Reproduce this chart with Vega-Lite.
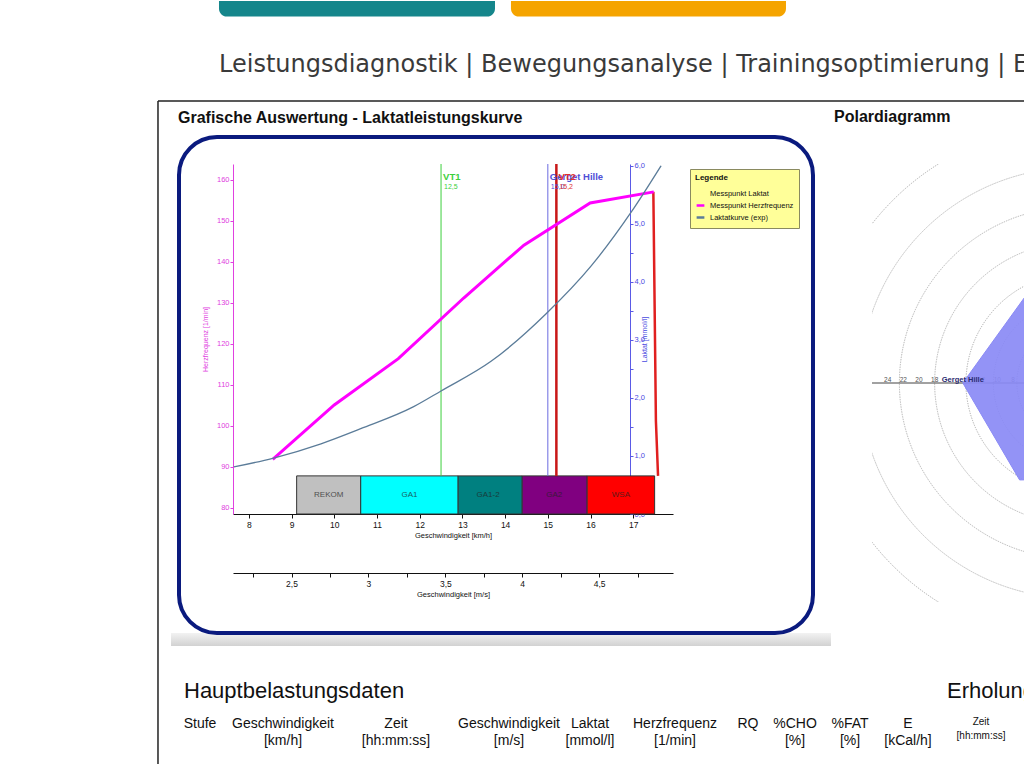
{
  "$schema": "https://vega.github.io/schema/vega-lite/v6.json",
  "background": "white",
  "padding": {"left": 157, "top": 0, "right": 0, "bottom": 0},
  "config": {
    "font": "Liberation Sans",
    "view": {"stroke": null},
    "axis": {"grid": false, "labelFont": "Liberation Sans", "titleFont": "Liberation Sans"},
    "text": {"font": "Liberation Sans"},
    "title": {"font": "Liberation Sans"}
  },
  "title": {
    "text": "Leistungsdiagnostik | Bewegungsanalyse | Trainingsoptimierung | Ernährungsberatung",
    "anchor": "start",
    "frame": "group",
    "font": "DejaVu Sans",
    "fontSize": 24,
    "fontWeight": "normal",
    "color": "#3a3a3a",
    "dx": -14,
    "offset": -76
  },
  "datasets": {
    "hf": [
      {"kmh": 8.56, "hf": 91.8},
      {"kmh": 10.0, "hf": 105.1},
      {"kmh": 11.5, "hf": 116.4},
      {"kmh": 13.03, "hf": 131.2},
      {"kmh": 14.44, "hf": 144.1},
      {"kmh": 15.99, "hf": 154.4},
      {"kmh": 17.48, "hf": 157.1}
    ],
    "abfall": [
      {"kmh": 17.47, "hf": 157.1},
      {"kmh": 17.53, "hf": 101.2},
      {"kmh": 17.58, "hf": 87.8}
    ],
    "laktat": [
      {"kmh": 7.65, "la": 0.81},
      {"kmh": 8.56, "la": 0.96},
      {"kmh": 9.69, "la": 1.21},
      {"kmh": 10.62, "la": 1.47},
      {"kmh": 11.86, "la": 1.85},
      {"kmh": 12.5, "la": 2.12},
      {"kmh": 13.67, "la": 2.63},
      {"kmh": 14.96, "la": 3.45},
      {"kmh": 16.01, "la": 4.27},
      {"kmh": 16.95, "la": 5.2},
      {"kmh": 17.65, "la": 6.0}
    ],
    "zonen": [
      {"zone": "REKOM", "von": 9.12, "bis": 10.62, "mitte": 9.87},
      {"zone": "GA1", "von": 10.62, "bis": 12.9, "mitte": 11.76},
      {"zone": "GA1-2", "von": 12.9, "bis": 14.4, "mitte": 13.6},
      {"zone": "GA2", "von": 14.4, "bis": 15.92, "mitte": 15.15},
      {"zone": "WSA", "von": 15.92, "bis": 17.5, "mitte": 16.71}
    ],
    "schwellen": [
      {"name": "VT1", "kmh": 12.5, "wert": "12,5"},
      {"name": "Gerget Hille", "kmh": 15.0, "wert": "15,0"},
      {"name": "VT2", "kmh": 15.2, "wert": "15,2"}
    ],
    "logos": [
      {"logo": "teal", "von": 7.302, "bis": 13.763},
      {"logo": "orange", "von": 14.137, "bis": 20.575}
    ],
    "kreise": [
      {"r": 0.5}, {"r": 1}, {"r": 1.5}, {"r": 2}, {"r": 2.5}, {"r": 3}, {"r": 3.5}, {"r": 4}, {"r": 4.5}, {"r": 5},
      {"r": 5.5}, {"r": 6}, {"r": 6.5}, {"r": 7}, {"r": 7.5}, {"r": 8}, {"r": 8.5}, {"r": 9}, {"r": 9.5}, {"r": 10},
      {"r": 10.5}, {"r": 11}, {"r": 11.5}, {"r": 12}, {"r": 12.5}, {"r": 13}, {"r": 13.5}, {"r": 14}, {"r": 14.5}, {"r": 15},
      {"r": 15.5}, {"r": 16}, {"r": 16.5}, {"r": 17}, {"r": 17.5}, {"r": 18}, {"r": 18.5}, {"r": 19}, {"r": 19.5}, {"r": 20},
      {"r": 20.5}, {"r": 21}, {"r": 21.5}, {"r": 22}, {"r": 22.5}, {"r": 23}, {"r": 23.5}, {"r": 24}, {"r": 24.5}, {"r": 25},
      {"r": 25.5}, {"r": 26}
    ],
    "polygon": [
      {"i": 0, "x": -14, "y": 0},
      {"i": 1, "x": -6.5, "y": 11.26},
      {"i": 2, "x": 6.4, "y": 11.09},
      {"i": 3, "x": 14.4, "y": 0},
      {"i": 4, "x": 7.15, "y": -12.38},
      {"i": 5, "x": -7, "y": -12.12}
    ],
    "ringwerte": [
      {"wert": 24}, {"wert": 22}, {"wert": 20}, {"wert": 18}, {"wert": 12}, {"wert": 10}, {"wert": 8}
    ],
    "kopf": [
      {"nr": 1, "zeile": "kopf", "text": "Stufe"},
      {"nr": 2, "zeile": "kopf", "text": "Geschwindigkeit\n[km/h]"},
      {"nr": 3, "zeile": "kopf", "text": "Zeit\n[hh:mm:ss]"},
      {"nr": 4, "zeile": "kopf", "text": "Geschwindigkeit\n[m/s]"},
      {"nr": 5, "zeile": "kopf", "text": "Laktat\n[mmol/l]"},
      {"nr": 6, "zeile": "kopf", "text": "Herzfrequenz\n[1/min]"},
      {"nr": 7, "zeile": "kopf", "text": "RQ"},
      {"nr": 8, "zeile": "kopf", "text": "%CHO\n[%]"},
      {"nr": 9, "zeile": "kopf", "text": "%FAT\n[%]"},
      {"nr": 10, "zeile": "kopf", "text": "E\n[kCal/h]"},
      {"nr": 11, "zeile": "kopf", "text": "Zeit\n[hh:mm:ss]"}
    ],
    "abschnitte": [
      {"nr": 1, "zeile": "titel", "text": "Hauptbelastungsdaten"},
      {"nr": 11, "zeile": "titel", "text": "Erholungsdaten"}
    ]
  },
  "bounds": "flush",
  "columns": 2,
  "spacing": {"row": 89, "column": 199},
  "concat": [
    {
      "width": 440,
      "height": 350,
      "title": {
        "text": "Grafische Auswertung - Laktatleistungskurve",
        "anchor": "start",
        "frame": "group",
        "dx": -55,
        "fontSize": 16,
        "fontWeight": "bold",
        "color": "#111111",
        "offset": -125
      },
      "layer": [
        {
          "layer": [
            {
              "data": {"name": "logos"},
              "mark": {"type": "rect", "cornerRadiusBottomLeft": 13, "cornerRadiusBottomRight": 13},
              "encoding": {
                "x": {"field": "von", "type": "quantitative", "scale": {"domain": [7.63, 17.93], "nice": false, "zero": false}},
                "x2": {"field": "bis"},
                "y": {"datum": 203.7, "type": "quantitative", "scale": {"domain": [78.5, 163.9], "nice": false, "zero": false}},
                "y2": {"datum": 199.9},
                "fill": {"field": "logo", "type": "nominal", "legend": null}
              }
            },
            {
              "data": {"values": [{}]},
              "mark": {
                "type": "rect",
                "fill": {"gradient": "linear", "x1": 0, "y1": 0, "x2": 0, "y2": 1,
                  "stops": [{"offset": 0, "color": "#f2f2f2"}, {"offset": 1, "color": "#d2d2d2"}]}
              },
              "encoding": {
                "x": {"datum": 6.179, "type": "quantitative", "scale": {"domain": [7.63, 17.93], "nice": false, "zero": false}},
                "x2": {"datum": 21.628},
                "y": {"datum": 49.46, "type": "quantitative", "scale": {"domain": [78.5, 163.9], "nice": false, "zero": false}},
                "y2": {"datum": 46.29}
              }
            },
            {
              "data": {"values": [{}]},
              "mark": {"type": "rect", "fill": "transparent", "stroke": "#0a1a7e", "strokeWidth": 4, "cornerRadius": 38},
              "encoding": {
                "x": {"datum": 6.366, "type": "quantitative", "scale": {"domain": [7.63, 17.93], "nice": false, "zero": false}},
                "x2": {"datum": 21.207},
                "y": {"datum": 170.5, "type": "quantitative", "scale": {"domain": [78.5, 163.9], "nice": false, "zero": false}},
                "y2": {"datum": 49.46}
              }
            },
            {
              "data": {"values": [{}]},
              "mark": {"type": "rule", "color": "#222222", "strokeWidth": 1.5},
              "encoding": {
                "x": {"datum": 5.874, "type": "quantitative", "scale": {"domain": [7.63, 17.93], "nice": false, "zero": false}},
                "y": {"datum": 179.28, "type": "quantitative", "scale": {"domain": [78.5, 163.9], "nice": false, "zero": false}},
                "y2": {"datum": 17.25}
              }
            },
            {
              "data": {"values": [{}]},
              "mark": {"type": "rule", "color": "#222222", "strokeWidth": 1.5},
              "encoding": {
                "x": {"datum": 5.874, "type": "quantitative", "scale": {"domain": [7.63, 17.93], "nice": false, "zero": false}},
                "x2": {"datum": 26.17},
                "y": {"datum": 179.28, "type": "quantitative", "scale": {"domain": [78.5, 163.9], "nice": false, "zero": false}}
              }
            },
            {
              "data": {"name": "zonen"},
              "mark": {"type": "rect", "stroke": "#333333", "strokeWidth": 1},
              "encoding": {
                "x": {"field": "von", "type": "quantitative", "scale": {"domain": [7.63, 17.93], "nice": false, "zero": false}},
                "x2": {"field": "bis"},
                "y": {"datum": 87.8, "type": "quantitative", "scale": {"domain": [78.5, 163.9], "nice": false, "zero": false}},
                "y2": {"datum": 78.5},
                "fill": {
                  "field": "zone", "type": "nominal", "legend": null,
                  "scale": {
                    "domain": ["REKOM", "GA1", "GA1-2", "GA2", "WSA", "VT1", "Gerget Hille", "VT2", "teal", "orange"],
                    "range": ["#c0c0c0", "#00ffff", "#008080", "#800080", "#ff0000", "#3ccf3c", "#4f4fd6", "#e03030", "#15868b", "#f5a400"]
                  }
                }
              }
            },
            {
              "data": {"name": "zonen"},
              "mark": {"type": "text", "fontSize": 8, "color": "#222222", "opacity": 0.72},
              "encoding": {
                "x": {"field": "mitte", "type": "quantitative", "scale": {"domain": [7.63, 17.93], "nice": false, "zero": false}},
                "y": {"datum": 83.2, "type": "quantitative", "scale": {"domain": [78.5, 163.9], "nice": false, "zero": false}},
                "text": {"field": "zone"}
              }
            },
            {
              "data": {"name": "schwellen"},
              "mark": {"type": "rule", "strokeWidth": 1},
              "encoding": {
                "x": {"field": "kmh", "type": "quantitative", "scale": {"domain": [7.63, 17.93], "nice": false, "zero": false}},
                "y": {"datum": 163.9, "type": "quantitative", "scale": {"domain": [78.5, 163.9], "nice": false, "zero": false}},
                "y2": {"datum": 87.8},
                "stroke": {
                  "field": "name", "type": "nominal", "legend": null,
                  "scale": {"domain": ["VT1", "Gerget Hille", "VT2"], "range": ["#3ccf3c", "#6a6ae0", "#c81818"]}
                }
              }
            },
            {
              "data": {"name": "schwellen"},
              "transform": [{"filter": "datum.name === 'VT2'"}],
              "mark": {"type": "rule", "strokeWidth": 2.5, "color": "#c81818"},
              "encoding": {
                "x": {"field": "kmh", "type": "quantitative", "scale": {"domain": [7.63, 17.93], "nice": false, "zero": false}},
                "y": {"datum": 163.9, "type": "quantitative", "scale": {"domain": [78.5, 163.9], "nice": false, "zero": false}},
                "y2": {"datum": 87.8}
              }
            },
            {
              "data": {"name": "schwellen"},
              "mark": {"type": "text", "align": "left", "dx": 2, "fontSize": 9.5, "fontWeight": "bold"},
              "encoding": {
                "x": {"field": "kmh", "type": "quantitative", "scale": {"domain": [7.63, 17.93], "nice": false, "zero": false}},
                "y": {"datum": 160.7, "type": "quantitative", "scale": {"domain": [78.5, 163.9], "nice": false, "zero": false}},
                "text": {"field": "name"},
                "fill": {"field": "name", "type": "nominal", "legend": null}
              }
            },
            {
              "data": {"name": "schwellen"},
              "mark": {"type": "text", "align": "left", "dx": 3, "fontSize": 7},
              "encoding": {
                "x": {"field": "kmh", "type": "quantitative", "scale": {"domain": [7.63, 17.93], "nice": false, "zero": false}},
                "y": {"datum": 158.2, "type": "quantitative", "scale": {"domain": [78.5, 163.9], "nice": false, "zero": false}},
                "text": {"field": "wert"},
                "fill": {"field": "name", "type": "nominal", "legend": null}
              }
            },
            {
              "data": {"name": "abfall"},
              "mark": {"type": "line", "color": "#e02020", "strokeWidth": 2.5},
              "encoding": {
                "x": {"field": "kmh", "type": "quantitative", "scale": {"domain": [7.63, 17.93], "nice": false, "zero": false}},
                "y": {"field": "hf", "type": "quantitative", "scale": {"domain": [78.5, 163.9], "nice": false, "zero": false}}
              }
            },
            {
              "data": {"name": "hf"},
              "mark": {"type": "line", "strokeWidth": 3},
              "encoding": {
                "x": {
                  "field": "kmh", "type": "quantitative",
                  "scale": {"domain": [7.63, 17.93], "nice": false, "zero": false},
                  "axis": {
                    "values": [8, 8.5, 9, 9.5, 10, 10.5, 11, 11.5, 12, 12.5, 13, 13.5, 14, 14.5, 15, 15.5, 16, 16.5, 17, 17.5],
                    "labelExpr": "datum.value % 1 === 0 ? datum.label : ''",
                    "title": "Geschwindigkeit [km/h]",
                    "titleFontSize": 7.5, "titleFontWeight": "normal", "titleColor": "#111111",
                    "labelFontSize": 8.5, "labelColor": "#111111",
                    "domainColor": "#111111", "tickColor": "#111111", "tickSize": 4,
                    "labelPadding": 2, "titlePadding": 3
                  }
                },
                "y": {
                  "field": "hf", "type": "quantitative",
                  "scale": {"domain": [78.5, 163.9], "nice": false, "zero": false},
                  "axis": {
                    "values": [80, 85, 90, 95, 100, 105, 110, 115, 120, 125, 130, 135, 140, 145, 150, 155, 160],
                    "labelExpr": "datum.value % 10 === 0 ? datum.label : ''",
                    "title": "Herzfrequenz [1/min]",
                    "titleFontSize": 7, "titleFontWeight": "normal", "titleColor": "#e040e0",
                    "labelFontSize": 7.5, "labelColor": "#e040e0",
                    "domainColor": "#e040e0", "tickColor": "#e040e0", "tickSize": 3,
                    "labelPadding": 1, "titlePadding": 8
                  }
                },
                "color": {
                  "datum": "Messpunkt Herzfrequenz",
                  "scale": {
                    "domain": ["Messpunkt Laktat", "Messpunkt Herzfrequenz", "Laktatkurve (exp)"],
                    "range": ["#ffff99", "#ff00ff", "#5b7c99"]
                  },
                  "legend": {
                    "orient": "none", "legendX": 457, "legendY": 5,
                    "title": "Legende", "titleFontSize": 8, "titleFontWeight": "bold", "titleColor": "#111111",
                    "labelFontSize": 7.5, "labelColor": "#111111",
                    "fillColor": "#ffff99", "strokeColor": "#8a8a60",
                    "padding": 5, "rowPadding": 1, "titlePadding": 6,
                    "symbolType": "stroke", "symbolStrokeWidth": 2.5, "symbolSize": 60, "labelLimit": 200
                  }
                }
              }
            }
          ]
        },
        {
          "data": {"name": "laktat"},
          "mark": {"type": "line", "interpolate": "monotone", "strokeWidth": 1.3},
          "encoding": {
            "x": {
              "field": "kmh", "type": "quantitative",
              "scale": {"domain": [7.63, 17.93], "nice": false, "zero": false},
              "axis": {
                "orient": "bottom", "offset": 59,
                "values": [8.1, 9, 9.9, 10.8, 11.7, 12.6, 13.5, 14.4, 15.3, 16.2, 17.1],
                "labelExpr": "abs(datum.value / 1.8 - round(datum.value / 1.8)) < 0.01 ? replace(format(datum.value / 3.6, '.2~f'), '.', ',') : ''",
                "title": "Geschwindigkeit [m/s]",
                "titleFontSize": 7.5, "titleFontWeight": "normal", "titleColor": "#111111",
                "labelFontSize": 8.5, "labelColor": "#111111",
                "domainColor": "#111111", "tickColor": "#111111", "tickSize": 4,
                "labelPadding": 2, "titlePadding": 3
              }
            },
            "y": {
              "field": "la", "type": "quantitative",
              "scale": {"domain": [0, 6.03], "nice": false, "zero": false},
              "axis": {
                "orient": "right", "offset": -43,
                "values": [0, 0.5, 1, 1.5, 2, 2.5, 3, 3.5, 4, 4.5, 5, 5.5, 6],
                "labelExpr": "datum.value % 1 === 0 ? replace(format(datum.value, '.1f'), '.', ',') : ''",
                "title": "Laktat [mmol/l]", "titleAngle": 270,
                "titleFontSize": 7, "titleFontWeight": "normal", "titleColor": "#4a4adf",
                "labelFontSize": 7.5, "labelColor": "#4a4adf",
                "domainColor": "#5a5ae6", "tickColor": "#5a5ae6", "tickSize": 3,
                "labelPadding": 1, "titlePadding": 3
              }
            },
            "color": {"datum": "Laktatkurve (exp)"}
          }
        }
      ],
      "resolve": {"scale": {"y": "independent"}, "axis": {"x": "independent", "y": "independent"}}
    },
    {
      "width": 153,
      "height": 438,
      "title": {
        "text": "Polardiagramm",
        "anchor": "start",
        "frame": "group",
        "dx": -38,
        "fontSize": 16,
        "fontWeight": "bold",
        "color": "#111111",
        "offset": 39
      },
      "layer": [
        {
          "data": {"name": "kreise"},
          "mark": {"type": "arc", "theta": 0, "theta2": 6.2832, "filled": false, "stroke": "#a0a0a0", "strokeWidth": 0.6, "strokeDash": [1, 1.5], "clip": true},
          "encoding": {
            "radius": {"field": "r", "type": "quantitative", "scale": {"type": "linear", "domain": [0, 26], "range": [0, 203.6], "zero": true}},
            "x": {"datum": 0, "type": "quantitative", "scale": {"domain": [26, 6.46], "nice": false, "zero": false}, "axis": null},
            "y": {"datum": 0, "type": "quantitative", "scale": {"domain": [-27.97, 27.97], "nice": false, "zero": false}, "axis": null}
          }
        },
        {
          "data": {"values": [{}]},
          "mark": {"type": "rule", "color": "#444444", "strokeWidth": 1.2, "clip": true},
          "encoding": {
            "x": {"datum": 26, "type": "quantitative", "scale": {"domain": [26, 6.46], "nice": false, "zero": false}, "axis": null},
            "x2": {"datum": 0},
            "y": {"datum": 0, "type": "quantitative", "scale": {"domain": [-27.97, 27.97], "nice": false, "zero": false}, "axis": null}
          }
        },
        {
          "data": {"name": "ringwerte"},
          "mark": {"type": "text", "fontSize": 6.5, "color": "#555555", "dy": -3, "clip": true},
          "encoding": {
            "x": {"field": "wert", "type": "quantitative", "scale": {"domain": [26, 6.46], "nice": false, "zero": false}, "axis": null},
            "y": {"datum": 0, "type": "quantitative", "scale": {"domain": [-27.97, 27.97], "nice": false, "zero": false}, "axis": null},
            "text": {"field": "wert"}
          }
        },
        {
          "data": {"name": "polygon"},
          "mark": {"type": "line", "interpolate": "linear-closed", "fill": "#8a8af5", "stroke": "#8a8af5", "strokeWidth": 1, "fillOpacity": 0.92, "clip": true},
          "encoding": {
            "x": {"field": "x", "type": "quantitative", "scale": {"domain": [26, 6.46], "nice": false, "zero": false}, "axis": null},
            "y": {"field": "y", "type": "quantitative", "scale": {"domain": [-27.97, 27.97], "nice": false, "zero": false}, "axis": null},
            "order": {"field": "i", "type": "quantitative"}
          }
        },
        {
          "data": {"name": "polygon"},
          "transform": [{"filter": "datum.i === 3"}],
          "mark": {"type": "text", "fontSize": 7.5, "fontWeight": "bold", "color": "#2a2a70", "dy": -3, "clip": true},
          "encoding": {
            "x": {"field": "x", "type": "quantitative", "scale": {"domain": [26, 6.46], "nice": false, "zero": false}, "axis": null},
            "y": {"field": "y", "type": "quantitative", "scale": {"domain": [-27.97, 27.97], "nice": false, "zero": false}, "axis": null},
            "text": {"datum": "Gerget Hille"}
          }
        }
      ]
    },
    {
      "width": 440,
      "height": 26,
      "layer": [
        {
          "data": {"name": "abschnitte"},
          "transform": [{"filter": "datum.nr === 1"}],
          "mark": {"type": "text", "align": "left", "baseline": "middle", "dx": -16, "fontSize": 22, "color": "#111111"},
          "encoding": {
            "x": {"field": "nr", "type": "quantitative", "scale": {"domain": [1, 2, 3, 4, 5, 6, 7, 8, 9, 10, 11], "range": [-33, 50, 163, 276, 357, 442, 515, 562, 617, 675, 748]}, "axis": null},
            "y": {"field": "zeile", "type": "nominal", "scale": {"type": "point", "domain": ["titel", "kopf"], "range": [0, 26], "padding": 0}, "axis": null},
            "text": {"field": "text"}
          }
        },
        {
          "data": {"name": "abschnitte"},
          "transform": [{"filter": "datum.nr === 11"}],
          "mark": {"type": "text", "align": "left", "baseline": "middle", "dx": -34, "fontSize": 22, "color": "#111111"},
          "encoding": {
            "x": {"field": "nr", "type": "quantitative", "axis": null},
            "y": {"field": "zeile", "type": "nominal", "axis": null},
            "text": {"field": "text"}
          }
        },
        {
          "data": {"name": "kopf"},
          "transform": [{"filter": "datum.nr < 11"}],
          "mark": {"type": "text", "align": "center", "baseline": "top", "lineBreak": "\n", "lineHeight": 17, "fontSize": 14, "color": "#111111"},
          "encoding": {
            "x": {"field": "nr", "type": "quantitative", "axis": null},
            "y": {"field": "zeile", "type": "nominal", "axis": null},
            "text": {"field": "text"}
          }
        },
        {
          "data": {"name": "kopf"},
          "transform": [{"filter": "datum.nr === 11"}],
          "mark": {"type": "text", "align": "center", "baseline": "top", "lineBreak": "\n", "lineHeight": 14, "fontSize": 10, "color": "#111111"},
          "encoding": {
            "x": {"field": "nr", "type": "quantitative", "axis": null},
            "y": {"field": "zeile", "type": "nominal", "axis": null},
            "text": {"field": "text"}
          }
        }
      ]
    }
  ]
}
